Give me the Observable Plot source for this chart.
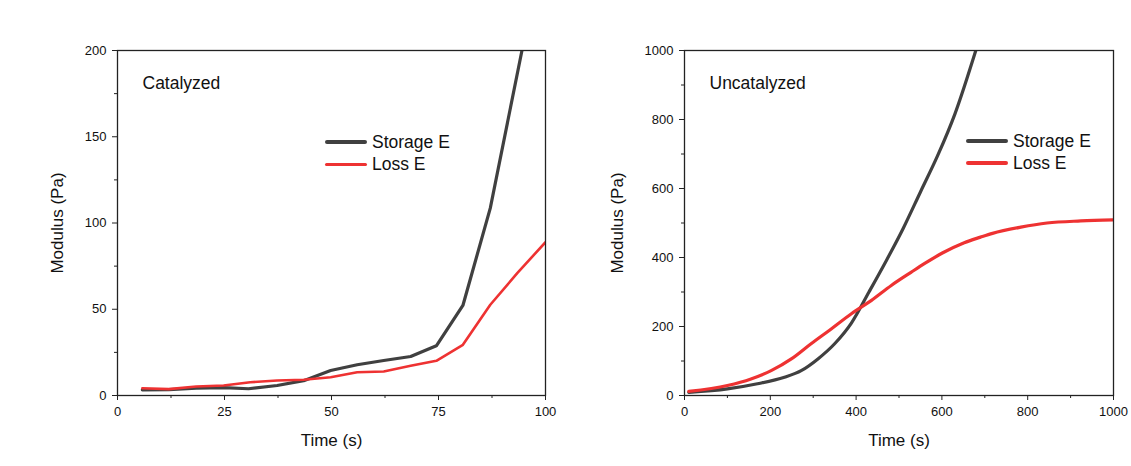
<!DOCTYPE html>
<html>
<head>
<meta charset="utf-8">
<script src="https://cdn.jsdelivr.net/npm/d3@7"></script>
<script src="https://cdn.jsdelivr.net/npm/@observablehq/plot@0.6"></script>
<style>
  body { margin: 0; background: #fff; font-family: "Liberation Sans", Arial, sans-serif; }
  #wrap { position: relative; width: 1131px; height: 466px; display: flex; }
  .leg { position: absolute; font-size: 17.5px; color: #111; display: flex; align-items: center; height: 22px; }
  .sw { display: inline-block; width: 42px; margin-right: 5px; border-radius: 2px; }
</style>
</head>
<body>
<div id="wrap"></div>
<script>
// ---- Catalyzed panel data ----
const catTime    = [5.8, 12, 18.4, 24.8, 30.6, 37.3, 43.5, 49.8, 56, 62.2, 68.5, 74.5, 80.7, 87.1, 94.5];
const catStorage = [3.3, 3.4, 4.2, 4.6, 3.9, 5.8, 8.6, 14.5, 17.8, 20.3, 22.6, 28.8, 52.2, 108.6, 200];
const catLossT   = [5.8, 12, 18.4, 24.8, 31, 37.3, 43.5, 49.8, 56, 62.2, 68.5, 74.5, 80.7, 87.1, 93.4, 100];
const catLoss    = [4.2, 3.7, 5.2, 5.8, 7.7, 8.7, 9.1, 10.6, 13.5, 13.9, 17.2, 20.1, 29.4, 52.6, 70.9, 88.9];

// ---- Uncatalyzed panel data ----
const uncStorT = [10, 100, 170, 233, 272, 311, 350, 389, 430, 470, 510, 550, 590, 630, 679];
const uncStor  = [9, 19, 34, 53, 72, 106, 150, 210, 300, 390, 485, 590, 695, 815, 1000];
const uncLossT = [10, 100, 155, 202, 249, 295, 342, 389, 435, 482, 528, 559, 601, 652, 690, 718, 784, 845, 924, 1000];
const uncLoss  = [12, 29, 48, 72, 106, 150, 193, 237, 275, 319, 357, 382, 413, 443, 459, 470, 488, 500, 506, 509];

const catXTicks = [0, 25, 50, 75, 100];
const catXMinor = [12.5, 37.5, 62.5, 87.5];
const catYTicks = [0, 50, 100, 150, 200];
const catYMinor = [25, 75, 125, 175];
const uncXTicks = [0, 200, 400, 600, 800, 1000];
const uncXMinor = [100, 300, 500, 700, 900];
const uncYTicks = [0, 200, 400, 600, 800, 1000];
const uncYMinor = [100, 300, 500, 700, 900];

const seriesNames = ["Storage E", "Loss E"];
const colors = ["#404040", "#ee3232"];

const zip = (xs, ys) => xs.map((x, i) => ({x, y: ys[i]}));

function panel({width, marginLeft, marginRight, xDomain, yDomain, xTicks, xMinor, yTicks, yMinor, storage, loss, title, ylabDx, curve, widths}) {
  return Plot.plot({
    width, height: 466,
    marginLeft, marginRight, marginTop: 50, marginBottom: 71,
    style: {fontFamily: "Liberation Sans, Arial, sans-serif", color: "#111", background: "transparent"},
    x: {domain: xDomain},
    y: {domain: yDomain},
    marks: [
      Plot.line(storage, {x: "x", y: "y", stroke: colors[0], strokeWidth: widths[0], curve, clip: true}),
      Plot.line(loss, {x: "x", y: "y", stroke: colors[1], strokeWidth: widths[1], curve, clip: true}),
      Plot.frame({stroke: "#222", strokeWidth: 1.3}),
      Plot.axisX({ticks: xTicks, tickFormat: d => String(d), tickSize: 5, tickPadding: 6, fontSize: 13, label: null, stroke: "#222"}),
      Plot.axisX({ticks: xMinor, tickSize: 3, text: null, label: null, stroke: "#222"}),
      Plot.axisY({ticks: yTicks, tickFormat: d => String(d), tickSize: 5, tickPadding: 6, fontSize: 13, label: null, stroke: "#222"}),
      Plot.axisY({ticks: yMinor, tickSize: 3, text: null, label: null, stroke: "#222"}),
      Plot.text([title], {frameAnchor: "top-left", dx: 25, dy: 33, textAnchor: "start", lineAnchor: "middle", fontSize: 17.5, fill: "#111"}),
      Plot.text(["Modulus (Pa)"], {frameAnchor: "left", dx: ylabDx, rotate: -90, textAnchor: "middle", lineAnchor: "middle", fontSize: 17, fill: "#111"}),
      Plot.text(["Time (s)"], {frameAnchor: "bottom", dy: 45, textAnchor: "middle", lineAnchor: "middle", fontSize: 17, fill: "#111"})
    ]
  });
}

const wrap = document.getElementById("wrap");
wrap.append(panel({
  width: 565, marginLeft: 117, marginRight: 20,
  xDomain: [0, 100], yDomain: [0, 200],
  xTicks: catXTicks, xMinor: catXMinor, yTicks: catYTicks, yMinor: catYMinor,
  storage: zip(catTime, catStorage), loss: zip(catLossT, catLoss),
  title: "Catalyzed", ylabDx: -60, curve: "linear", widths: [3.2, 2.6]
}));
wrap.append(panel({
  width: 566, marginLeft: 119, marginRight: 18,
  xDomain: [0, 1000], yDomain: [0, 1000],
  xTicks: uncXTicks, xMinor: uncXMinor, yTicks: uncYTicks, yMinor: uncYMinor,
  storage: zip(uncStorT, uncStor), loss: zip(uncLossT, uncLoss),
  title: "Uncatalyzed", ylabDx: -67, curve: "monotone-x", widths: [3.2, 3.2]
}));

// legends
function legend(left, top, sw) {
  seriesNames.forEach((name, i) => {
    const d = document.createElement("div");
    d.className = "leg";
    d.style.left = left + "px";
    d.style.top = (top + i * 22) + "px";
    const s = document.createElement("span");
    s.className = "sw";
    s.style.height = sw[i] + "px";
    s.style.background = colors[i];
    d.append(s, document.createTextNode(name));
    wrap.append(d);
  });
}
legend(325, 131, [4, 3]);
legend(966, 130, [3.5, 4.5]);
</script>
</body>
</html>
